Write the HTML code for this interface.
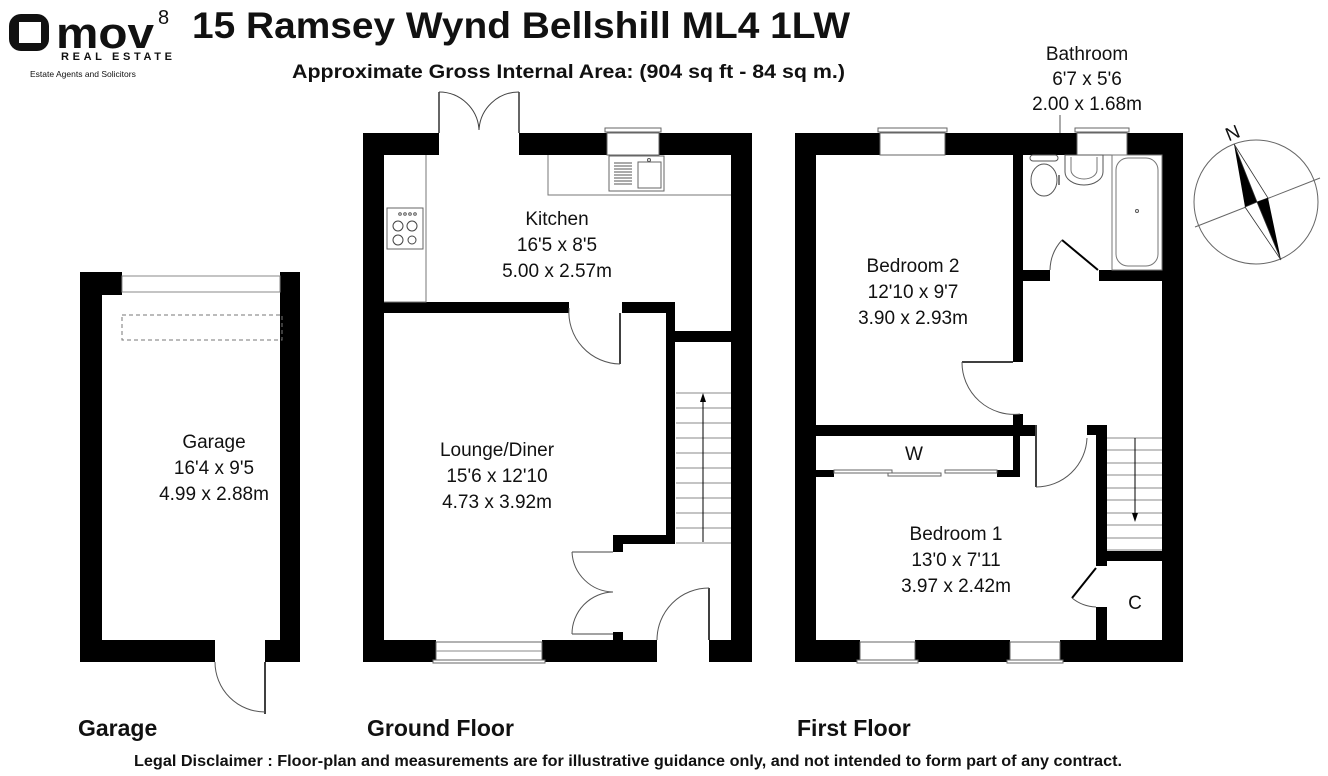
<!DOCTYPE html>
<html><head><meta charset="utf-8"><style>
html,body{margin:0;padding:0;background:#fff;}
svg{display:block;font-family:"Liberation Sans",Arial,sans-serif;}
</style></head><body>
<svg width="1328" height="776" viewBox="0 0 1328 776" xmlns="http://www.w3.org/2000/svg">
<rect width="1328" height="776" fill="#fff"/>
<!-- Logo -->
<rect x="9" y="14" width="40" height="37" rx="12" fill="#111"/>
<rect x="19" y="22" width="22" height="21" fill="#fff"/>
<text x="56" y="48" font-size="44" font-weight="bold" fill="#111" textLength="98" lengthAdjust="spacingAndGlyphs">mov</text>
<text x="158" y="24" font-size="20" fill="#111">8</text>
<text x="61" y="60" font-size="11" font-weight="bold" fill="#111" textLength="111" lengthAdjust="spacing">REAL ESTATE</text>
<text x="30" y="77" font-size="8.5" fill="#111">Estate Agents and Solicitors</text>
<!-- Title -->
<text x="192" y="38" font-size="37" font-weight="bold" fill="#111" textLength="658" lengthAdjust="spacingAndGlyphs">15 Ramsey Wynd Bellshill ML4 1LW</text>
<text x="292" y="78" font-size="19" font-weight="bold" fill="#111" textLength="553" lengthAdjust="spacingAndGlyphs">Approximate Gross Internal Area: (904 sq ft - 84 sq m.)</text>
<g font-size="19" fill="#111" text-anchor="middle">
<text x="1087" y="60">Bathroom</text>
<text x="1087" y="85">6'7 x 5'6</text>
<text x="1087" y="110">2.00 x 1.68m</text>
</g>
<line x1="1060" y1="115" x2="1060" y2="133" stroke="#555" stroke-width="1"/>

<!-- GARAGE -->
<g fill="#000">
<rect x="80" y="272" width="42" height="23"/>
<rect x="280" y="272" width="20" height="23"/>
<rect x="80" y="272" width="22" height="390"/>
<rect x="280" y="272" width="20" height="390"/>
<rect x="80" y="640" width="135" height="22"/>
<rect x="265" y="640" width="35" height="22"/>
</g>
<rect x="122" y="276" width="158" height="16" fill="#fff" stroke="#888" stroke-width="1"/>
<rect x="122" y="315" width="160" height="25" fill="none" stroke="#777" stroke-width="1" stroke-dasharray="4,3"/>
<line x1="265" y1="662" x2="265" y2="714" stroke="#000" stroke-width="1.5"/>
<path d="M215 662 A50 50 0 0 0 265 712" fill="none" stroke="#555" stroke-width="1"/>
<g font-size="19" fill="#111" text-anchor="middle">
<text x="214" y="448">Garage</text>
<text x="214" y="474">16'4 x 9'5</text>
<text x="214" y="500">4.99 x 2.88m</text>
</g>

<!-- GROUND FLOOR -->
<g fill="#000">
<rect x="363" y="133" width="76" height="22"/>
<rect x="519" y="133" width="88" height="22"/>
<rect x="659" y="133" width="93" height="22"/>
<rect x="363" y="133" width="21" height="529"/>
<rect x="731" y="133" width="21" height="529"/>
<rect x="363" y="302" width="206" height="11"/>
<rect x="622" y="302" width="53" height="11"/>
<rect x="666" y="302" width="9" height="242"/>
<rect x="675" y="331" width="57" height="11"/>
<rect x="613" y="535" width="62" height="9"/>
<rect x="613" y="535" width="10" height="17"/>
<rect x="363" y="640" width="73" height="22"/>
<rect x="542" y="640" width="115" height="22"/>
<rect x="613" y="632" width="10" height="10"/>
<rect x="709" y="640" width="43" height="22"/>
</g>
<line x1="439" y1="92" x2="439" y2="133" stroke="#000" stroke-width="1.2"/>
<line x1="519" y1="92" x2="519" y2="133" stroke="#000" stroke-width="1.2"/>
<path d="M439 92 A40 40 0 0 1 479 130 M519 92 A40 40 0 0 0 479 130" fill="none" stroke="#444" stroke-width="1"/>
<rect x="605" y="128" width="56" height="4" fill="#fff" stroke="#666" stroke-width="1"/>
<rect x="607" y="133" width="52" height="22" fill="#fff" stroke="#666" stroke-width="1"/>
<path d="M548 155 L548 195 L731 195" fill="none" stroke="#777" stroke-width="1"/>
<rect x="609" y="156" width="55" height="35" fill="#fff" stroke="#666" stroke-width="1"/>
<g stroke="#555" stroke-width="1">
<line x1="614" y1="163" x2="632" y2="163"/><line x1="614" y1="166" x2="632" y2="166"/><line x1="614" y1="169" x2="632" y2="169"/><line x1="614" y1="172" x2="632" y2="172"/><line x1="614" y1="175" x2="632" y2="175"/><line x1="614" y1="178" x2="632" y2="178"/><line x1="614" y1="181" x2="632" y2="181"/><line x1="614" y1="184" x2="632" y2="184"/>
</g>
<rect x="638" y="162" width="23" height="26" fill="none" stroke="#666" stroke-width="1"/>
<circle cx="649" cy="160" r="1.5" fill="none" stroke="#555"/>
<path d="M384 302 L426 302 L426 155" fill="none" stroke="#777" stroke-width="1"/>
<rect x="387" y="208" width="36" height="41" fill="#fff" stroke="#666" stroke-width="1"/>
<circle cx="398" cy="226" r="5" fill="none" stroke="#444"/><circle cx="412" cy="226" r="5" fill="none" stroke="#444"/>
<circle cx="398" cy="240" r="5" fill="none" stroke="#444"/><circle cx="412" cy="240" r="4" fill="none" stroke="#444"/>
<g fill="none" stroke="#555"><circle cx="400" cy="214" r="1.3"/><circle cx="405" cy="214" r="1.3"/><circle cx="410" cy="214" r="1.3"/><circle cx="415" cy="214" r="1.3"/></g>
<line x1="620" y1="313" x2="620" y2="364" stroke="#000" stroke-width="1.5"/>
<path d="M569 308 A52 52 0 0 0 620 364" fill="none" stroke="#555" stroke-width="1"/>
<g stroke="#888" stroke-width="1">
<line x1="676" y1="393" x2="731" y2="393"/><line x1="676" y1="408" x2="731" y2="408"/><line x1="676" y1="423" x2="731" y2="423"/><line x1="676" y1="438" x2="731" y2="438"/><line x1="676" y1="453" x2="731" y2="453"/><line x1="676" y1="468" x2="731" y2="468"/><line x1="676" y1="483" x2="731" y2="483"/><line x1="676" y1="498" x2="731" y2="498"/><line x1="676" y1="513" x2="731" y2="513"/><line x1="676" y1="528" x2="731" y2="528"/><line x1="676" y1="543" x2="731" y2="543"/>
</g>
<line x1="703" y1="542" x2="703" y2="398" stroke="#000" stroke-width="1"/>
<polygon points="703,393 700,402 706,402" fill="#000"/>
<line x1="572" y1="552" x2="613" y2="552" stroke="#444" stroke-width="1"/>
<line x1="572" y1="634" x2="613" y2="634" stroke="#444" stroke-width="1"/>
<path d="M572 552 A42 42 0 0 0 613 592 M572 634 A42 42 0 0 1 613 592" fill="none" stroke="#555" stroke-width="1"/>
<line x1="709" y1="588" x2="709" y2="640" stroke="#000" stroke-width="1.5"/>
<path d="M657 640 A52 52 0 0 1 709 588" fill="none" stroke="#555" stroke-width="1"/>
<rect x="436" y="642" width="106" height="18" fill="#fff" stroke="#666" stroke-width="1"/>
<line x1="436" y1="651" x2="542" y2="651" stroke="#888"/>
<rect x="433" y="660" width="112" height="3" fill="#fff" stroke="#666" stroke-width="1"/>
<g font-size="19" fill="#111" text-anchor="middle">
<text x="557" y="225">Kitchen</text>
<text x="557" y="251">16'5 x 8'5</text>
<text x="557" y="277">5.00 x 2.57m</text>
<text x="497" y="456">Lounge/Diner</text>
<text x="497" y="482">15'6 x 12'10</text>
<text x="497" y="508">4.73 x 3.92m</text>
</g>

<!-- FIRST FLOOR -->
<g fill="#000">
<rect x="795" y="133" width="85" height="22"/>
<rect x="945" y="133" width="132" height="22"/>
<rect x="1127" y="133" width="56" height="22"/>
<rect x="795" y="133" width="21" height="529"/>
<rect x="1162" y="133" width="21" height="529"/>
<rect x="1013" y="155" width="10" height="207"/>
<rect x="1013" y="270" width="37" height="11"/>
<rect x="1099" y="270" width="63" height="11"/>
<rect x="1013" y="414" width="10" height="13"/>
<rect x="795" y="425" width="240" height="11"/>
<rect x="1087" y="425" width="20" height="10"/>
<rect x="1096" y="425" width="11" height="141"/>
<rect x="816" y="470" width="18" height="7"/>
<rect x="997" y="470" width="23" height="7"/>
<rect x="1013" y="436" width="7" height="41"/>
<rect x="1096" y="551" width="66" height="10"/>
<rect x="1096" y="607" width="11" height="55"/>
<rect x="795" y="640" width="65" height="22"/>
<rect x="915" y="640" width="95" height="22"/>
<rect x="1060" y="640" width="123" height="22"/>
</g>
<rect x="878" y="128" width="69" height="4" fill="#fff" stroke="#666"/>
<rect x="880" y="133" width="65" height="22" fill="#fff" stroke="#666"/>
<rect x="1075" y="128" width="54" height="4" fill="#fff" stroke="#666"/>
<rect x="1077" y="133" width="50" height="22" fill="#fff" stroke="#666"/>
<rect x="860" y="642" width="55" height="18" fill="#fff" stroke="#666"/>
<rect x="857" y="660" width="61" height="3" fill="#fff" stroke="#666"/>
<rect x="1010" y="642" width="50" height="18" fill="#fff" stroke="#666"/>
<rect x="1007" y="660" width="56" height="3" fill="#fff" stroke="#666"/>
<rect x="1030" y="155" width="28" height="6" rx="3" fill="#fff" stroke="#555"/>
<ellipse cx="1044" cy="180" rx="13" ry="16" fill="#fff" stroke="#555"/>
<path d="M1065 155 L1065 172 A19 13 0 0 0 1103 172 L1103 155 Z" fill="#fff" stroke="#555"/>
<path d="M1071 157 L1071 170 A13 9 0 0 0 1097 170 L1097 157" fill="none" stroke="#777"/>
<rect x="1112" y="155" width="50" height="115" fill="#fff" stroke="#777"/>
<rect x="1116" y="158" width="42" height="108" rx="12" fill="none" stroke="#777"/>
<circle cx="1137" cy="211" r="1.5" fill="none" stroke="#555"/>
<line x1="1059" y1="175" x2="1059" y2="185" stroke="#000"/>
<line x1="1062" y1="240" x2="1098" y2="270" stroke="#000" stroke-width="2"/>
<path d="M1050 270 A46 46 0 0 1 1062 240" fill="none" stroke="#555"/>
<line x1="962" y1="362" x2="1013" y2="362" stroke="#000" stroke-width="1.5"/>
<path d="M962 362 A52 52 0 0 0 1020 414" fill="none" stroke="#555"/>
<rect x="834" y="470" width="58" height="3" fill="#fff" stroke="#666"/>
<rect x="888" y="473" width="53" height="3" fill="#fff" stroke="#666"/>
<rect x="945" y="470" width="52" height="3" fill="#fff" stroke="#666"/>
<text x="914" y="460" font-size="19" fill="#111" text-anchor="middle">W</text>
<line x1="1036" y1="425" x2="1036" y2="487" stroke="#000" stroke-width="1.5"/>
<path d="M1036 487 A51 51 0 0 0 1087 438" fill="none" stroke="#555"/>
<g stroke="#888" stroke-width="1">
<line x1="1107" y1="438" x2="1162" y2="438"/><line x1="1107" y1="450" x2="1162" y2="450"/><line x1="1107" y1="463" x2="1162" y2="463"/><line x1="1107" y1="475" x2="1162" y2="475"/><line x1="1107" y1="488" x2="1162" y2="488"/><line x1="1107" y1="500" x2="1162" y2="500"/><line x1="1107" y1="513" x2="1162" y2="513"/><line x1="1107" y1="525" x2="1162" y2="525"/><line x1="1107" y1="538" x2="1162" y2="538"/><line x1="1107" y1="550" x2="1162" y2="550"/>
</g>
<line x1="1135" y1="438" x2="1135" y2="516" stroke="#000"/>
<polygon points="1135,522 1132,513 1138,513" fill="#000"/>
<line x1="1096" y1="568" x2="1072" y2="598" stroke="#000" stroke-width="2"/>
<path d="M1072 598 A40 40 0 0 0 1096 607" fill="none" stroke="#555"/>
<g font-size="19" fill="#111" text-anchor="middle">
<text x="1135" y="609">C</text>
<text x="913" y="272">Bedroom 2</text>
<text x="913" y="298">12'10 x 9'7</text>
<text x="913" y="324">3.90 x 2.93m</text>
<text x="956" y="540">Bedroom 1</text>
<text x="956" y="566">13'0 x 7'11</text>
<text x="956" y="592">3.97 x 2.42m</text>
</g>

<!-- compass -->
<circle cx="1256" cy="202" r="62" fill="none" stroke="#666" stroke-width="1"/>
<line x1="1195" y1="227" x2="1320" y2="178" stroke="#666" stroke-width="1"/>
<polygon points="1234,144 1245,207 1257,202" fill="#000"/>
<polygon points="1234,144 1268,198 1257,202" fill="#fff" stroke="#333" stroke-width="0.8"/>
<polygon points="1281,260 1268,198 1257,202" fill="#000"/>
<polygon points="1281,260 1245,207 1257,202" fill="#fff" stroke="#333" stroke-width="0.8"/>
<text x="1226" y="142" font-size="19" fill="#111" transform="rotate(-22 1226 135)">N</text>

<g font-size="23" font-weight="bold" fill="#111">
<text x="78" y="736">Garage</text>
<text x="367" y="736">Ground Floor</text>
<text x="797" y="736">First Floor</text>
</g>
<text x="134" y="766" font-size="15.5" font-weight="bold" fill="#111" textLength="988" lengthAdjust="spacingAndGlyphs">Legal Disclaimer : Floor-plan and measurements are for illustrative guidance only, and not intended to form part of any contract.</text>
</svg>
</body></html>
